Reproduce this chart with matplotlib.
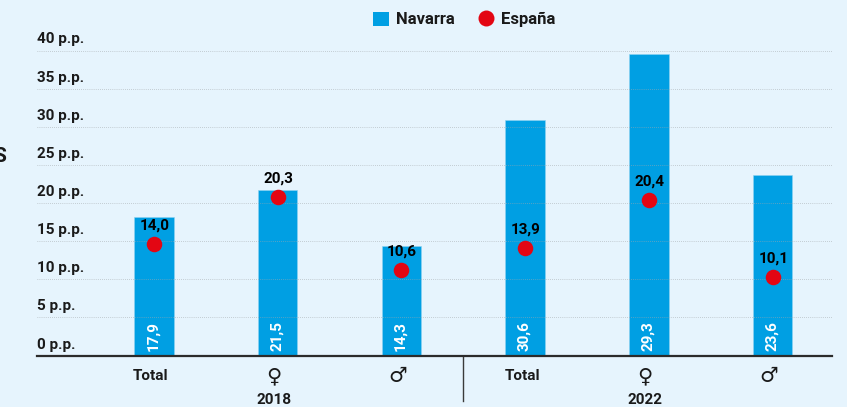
import matplotlib
matplotlib.use("Agg")
import matplotlib.pyplot as plt
from matplotlib.transforms import ScaledTranslation, blended_transform_factory
from matplotlib.lines import Line2D
from matplotlib.patches import Patch

categories = ["Total", "♀", "♂", "Total", "♀", "♂"]
years = ["2018", "2022"]
year_positions = [1, 4]
navarra_heights = [18.1, 21.7, 14.4, 30.9, 39.5, 23.7]
navarra_labels = ["17,9", "21,5", "14,3", "30,6", "29,3", "23,6"]
espana_values = [14.6, 20.8, 11.2, 14.1, 20.4, 10.3]
espana_labels = ["14,0", "20,3", "10,6", "13,9", "20,4", "10,1"]
yticks = [0, 5, 10, 15, 20, 25, 30, 35, 40]
series_names = ["Navarra", "España"]

BG = "#E6F4FD"
BLUE = "#009FE3"
RED = "#E30613"
INK = "#1A1A1A"
W, H = 847, 407
FS = 11
plt.rcParams["font.family"] = ["Roboto", "DejaVu Sans"]
plt.rcParams["font.weight"] = "bold"

fig = plt.figure(figsize=(W / 100, H / 100), dpi=100, facecolor=BG)
L, R, T, B = 37, 832, 50.5, 355.5
ax = fig.add_axes([L / W, 1 - B / H, (R - L) / W, (B - T) / H], facecolor=BG)
ax.set_ylim(0, 40)
ax.set_xlim((L - 154) / 123.7, (R - 154) / 123.7)

xs = list(range(len(categories)))
ax.bar(xs, navarra_heights, width=0.32, color=BLUE, edgecolor="#8FD3F2", linewidth=0.4, zorder=2)
ax.scatter(xs, espana_values, s=125, color=RED, zorder=4, linewidths=0)

ax.set_yticks(yticks)
ax.set_yticklabels([f"{v} p.p." for v in yticks], fontsize=FS, color=INK, ha="left", va="baseline")
ax.tick_params(axis="y", length=0, pad=0)
shift = ScaledTranslation(0, 7 / 100, fig.dpi_scale_trans)
for lab in ax.get_yticklabels():
    lab.set_transform(lab.get_transform() + shift)
ax.yaxis.grid(True, linestyle=(0, (1, 2)), linewidth=0.5, color="#A3A8AC", zorder=3)
ax.set_axisbelow(False)

ax.set_xticks(xs)
ax.set_xticklabels(categories, fontsize=FS, color=INK)
ax.tick_params(axis="x", length=0, pad=9.5)
xshift = ScaledTranslation(-3.5 / 100, 0, fig.dpi_scale_trans)
total_shift = ScaledTranslation(-3 / 100, 0, fig.dpi_scale_trans)
sym_shift = ScaledTranslation(-3.5 / 100, 1.5 / 100, fig.dpi_scale_trans)
for lab, c in zip(ax.get_xticklabels(), categories):
    if c != "Total":
        lab.set_fontsize(15)
        lab.set_fontweight("normal")
        lab.set_transform(lab.get_transform() + sym_shift)
    else:
        lab.set_transform(lab.get_transform() + total_shift)

for s in ["top", "left", "right"]:
    ax.spines[s].set_visible(False)
ax.spines["bottom"].set_linewidth(1.6)
ax.spines["bottom"].set_color("#2B2B2B")
ax.spines["bottom"].set_zorder(5)

for x, lab in zip(xs, navarra_labels):
    ax.annotate(lab, (x, 0), xytext=(-0.5, 3.5), textcoords="offset points", rotation=90,
                ha="center", va="bottom", color="white", fontsize=FS, zorder=5)
for x, y, lab in zip(xs, espana_values, espana_labels):
    ax.annotate(lab, (x, y), xytext=(0.5, 13.5), textcoords="offset points", ha="center",
                va="center", color="black", fontsize=FS, zorder=5)

tr = blended_transform_factory(ax.transData, fig.transFigure)
for x, y in zip(year_positions, years):
    ax.text(x, 1 - 400 / H, y, transform=tr + xshift, ha="center", va="center", fontsize=FS, color=INK)
ax.plot([2.5, 2.5], [1 - 356 / H, 1 - 401 / H], transform=tr, color="#3A3A3A", lw=1.0, clip_on=False)

handles = [Patch(facecolor=BLUE, edgecolor="none"),
           Line2D([], [], marker="o", linestyle="none", color=RED, markersize=11.5, markeredgewidth=0)]
fig.legend(handles, series_names, loc="center", bbox_to_anchor=(464 / W, 1 - 19.5 / H), ncol=2, frameon=False,
           fontsize=12, handlelength=0.95, handleheight=0.95, columnspacing=1.4, handletextpad=0.42,
           labelcolor=INK)

fig.text(-7 / W, 1 - 157 / H, "S", fontsize=15, color=INK, ha="left", va="center")

fig.savefig("out.png", dpi=100, facecolor=BG)
